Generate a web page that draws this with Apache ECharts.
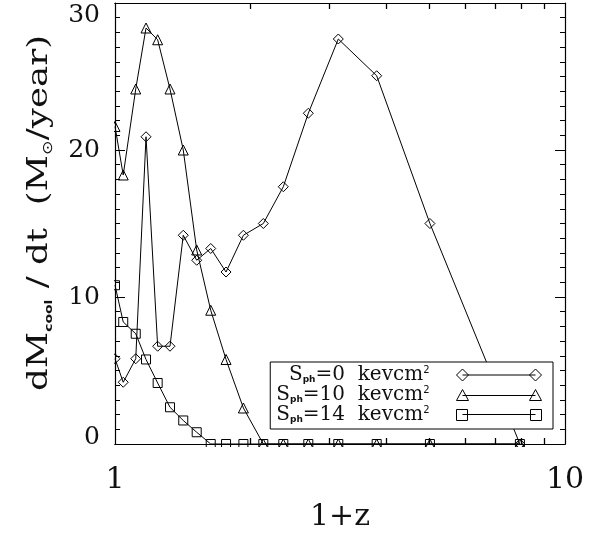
<!DOCTYPE html>
<html>
<head>
<meta charset="utf-8">
<script src="https://cdn.jsdelivr.net/npm/echarts@6/dist/echarts.min.js"></script>
<style>html,body{margin:0;padding:0;background:#fff}#c{width:602px;height:537px}</style>
</head>
<body>
<div id="c"></div>
<script>
// 1+z values (x positions, log axis)
const onePlusZ = [1.0, 1.043, 1.112, 1.172, 1.244, 1.325, 1.418, 1.519, 1.632, 1.765, 1.929, 2.136, 2.366, 2.689, 3.135, 3.815, 5.01, 7.94];
// dM_cool/dt for the three photoionisation values
const sph0  = [5.8, 4.2, 5.8, 20.9, 6.65, 6.65, 14.2, 12.5, 13.3, 11.7, 14.2, 15.0, 17.5, 22.5, 27.55, 25.05, 15.0, 0];
const sph10 = [21.6, 18.3, 24.15, 28.3, 27.5, 24.15, 20.0, 13.2, 9.1, 5.75, 2.45, 0, 0, 0, 0, 0, 0, 0];
const sph14 = [10.8, 8.3, 7.5, 5.75, 4.15, 2.5, 1.6, 0.8, 0, 0, 0, 0, 0, 0, 0, 0, 0, 0];
const legendValues = ['0', '10', '14'];
const seriesNames = ['S0', 'S10', 'S14'];
const xMinorTicks = [2, 3, 4, 5, 6, 7, 8, 9];
const yRange = [0, 30];
const yTitle = 'dM{sub|cool} / dt  (M{sun|⊙}/year)';
const xTitle = '1+z';

const FONT = 'DejaVu Serif';
const TXT = '#111';
const pair = (ys) => onePlusZ.map((x, i) => [x, ys[i]]);

const diamondIcon = 'path://M0,6L6,0L12,6L6,12ZM6,6L79,6M73,6L79,0L85,6L79,12Z';
const triIcon = 'path://M0,11L6,0L12,11ZM6,6L79,6M73,11L79,0L85,11Z';
const sqIcon = 'path://M0,1L11,1L11,12L0,12ZM6,6L79,6M74,1L85,1L85,12L74,12Z';

const lineSeries = (name, ys, symbol, size) => ({
  name, type: 'line', data: pair(ys), symbol, symbolSize: size,
  showAllSymbol: true, clip: true, z: 2, animation: false,
  lineStyle: { color: '#000', width: 1 },
  itemStyle: { color: 'transparent', borderColor: '#000', borderWidth: 1 },
  emphasis: { disabled: true }
});

const AXLINE = { show: true, onZero: false, lineStyle: { color: '#000', width: 1.2 } };
const TICKSTYLE = { color: '#000', width: 1 };
const MINORSTYLE = { color: '#000', width: 1.3 };

const xLog = (pos, extra) => Object.assign({
  type: 'log', logBase: 10, min: 1, max: 10, position: pos, z: 10,
  axisLine: AXLINE,
  axisTick: { show: true, inside: true, length: 10, lineStyle: TICKSTYLE },
  axisLabel: { show: false },
  splitLine: { show: false }
}, extra);

// extra log axes that only carry the decade minor ticks (2..9)
const xMinor = (pos) => xLog(pos, {
  axisLine: { show: true, onZero: false, lineStyle: { color: '#000', width: 1.2 } },
  axisTick: { show: true, inside: true, length: 6, lineStyle: MINORSTYLE, customValues: xMinorTicks },
  splitLine: { show: false }
});

const yBase = (pos, extra) => Object.assign({
  type: 'value', min: yRange[0], max: yRange[1], interval: 10, position: pos, z: 10,
  axisLine: AXLINE,
  axisTick: { show: true, inside: true, length: 10, lineStyle: TICKSTYLE },
  minorTick: { show: true, splitNumber: 10, length: 5, lineStyle: TICKSTYLE },
  axisLabel: { show: false },
  splitLine: { show: false }
}, extra);

const option = {
  backgroundColor: '#fff',
  animation: false,
  grid: { left: 115, right: 37, top: 3, bottom: 91, containLabel: false },
  xAxis: [
    xLog('bottom', {
      axisLabel: { show: true, fontFamily: FONT, fontSize: 30, color: TXT, margin: 21 },
      name: xTitle, nameLocation: 'middle', nameGap: 58,
      nameTextStyle: { fontFamily: FONT, fontSize: 30, color: TXT }
    }),
    xMinor('bottom'),
    xLog('top', {}),
    xMinor('top')
  ],
  yAxis: [
    yBase('left', {
      axisLabel: { show: true, fontFamily: FONT, fontSize: 25, color: TXT, margin: 15,
        verticalAlignMinLabel: 'bottom', verticalAlignMaxLabel: 'top',
        formatter: (v) => v === 30 ? '{top|30}' : (v === 0 ? '{bot|0}' : String(v)),
        rich: {
          top: { fontFamily: FONT, fontSize: 25, color: TXT, lineHeight: 24 },
          bot: { fontFamily: FONT, fontSize: 25, color: TXT, lineHeight: 13 }
        }
      }
    }),
    yBase('right', {})
  ],
  legend: {
    show: true, orient: 'vertical', right: 49, top: 362, align: 'right',
    itemWidth: 85, itemHeight: 12, itemGap: 0,
    padding: [3, 11, 4, 6], borderColor: '#000', borderWidth: 1,
    selectedMode: false, backgroundColor: '#fff',
    itemStyle: { color: 'transparent', borderColor: '#000', borderWidth: 1 },
    data: [
      { name: seriesNames[0], icon: diamondIcon },
      { name: seriesNames[1], icon: triIcon },
      { name: seriesNames[2], icon: sqIcon }
    ],
    formatter: (name) => {
      const v = legendValues[seriesNames.indexOf(name)];
      return '{s|S}{sub|ph}{t|=' + v + '  kevcm}{sup|2}{g|}';
    },
    textStyle: {
      fontFamily: FONT, fontSize: 20, color: TXT, lineHeight: 19,
      rich: {
        s: { fontFamily: FONT, fontSize: 20, lineHeight: 19, color: TXT },
        t: { fontFamily: FONT, fontSize: 20, lineHeight: 19, color: TXT },
        sub: { fontFamily: 'DejaVu Sans', fontWeight: 'bold', fontSize: 9, lineHeight: 10, verticalAlign: 'bottom', color: TXT },
        sup: { fontFamily: 'DejaVu Sans', fontSize: 10, lineHeight: 10, verticalAlign: 'top', color: TXT },
        g: { width: 22 }
      }
    }
  },
  graphic: [
    { type: 'rect', z: 5, silent: true, shape: { x: 0, y: 0, width: 114, height: 537 }, style: { fill: '#fff' } },
    { type: 'rect', z: 5, silent: true, shape: { x: 566, y: 0, width: 36, height: 537 }, style: { fill: '#fff' } },
    { type: 'rect', z: 5, silent: true, shape: { x: 0, y: 447, width: 602, height: 90 }, style: { fill: '#fff' } },
    { type: 'rect', z: 5, silent: true, shape: { x: 0, y: 0, width: 602, height: 2 }, style: { fill: '#fff' } },
    {
      type: 'text', z: 20, silent: true, x: 40, y: 213, rotation: Math.PI / 2, scaleX: 1.27, scaleY: 1,
      style: {
        text: yTitle, fontFamily: FONT, fontSize: 28, fill: TXT, align: 'center', verticalAlign: 'middle', lineHeight: 30,
        rich: {
          sub: { fontFamily: 'DejaVu Sans', fontWeight: 'bold', fontSize: 11, lineHeight: 14, verticalAlign: 'bottom', fill: TXT },
          sun: { fontFamily: 'DejaVu Sans', fontSize: 14, lineHeight: 16, verticalAlign: 'bottom', fill: TXT }
        }
      }
    }
  ],
  series: [
    lineSeries(seriesNames[0], sph0, 'diamond', 10),
    lineSeries(seriesNames[1], sph10, 'triangle', 10),
    lineSeries(seriesNames[2], sph14, 'rect', 9)
  ]
};

const chart = echarts.init(document.getElementById('c'), null, { renderer: 'canvas' });
chart.setOption(option);
</script>
</body>
</html>
